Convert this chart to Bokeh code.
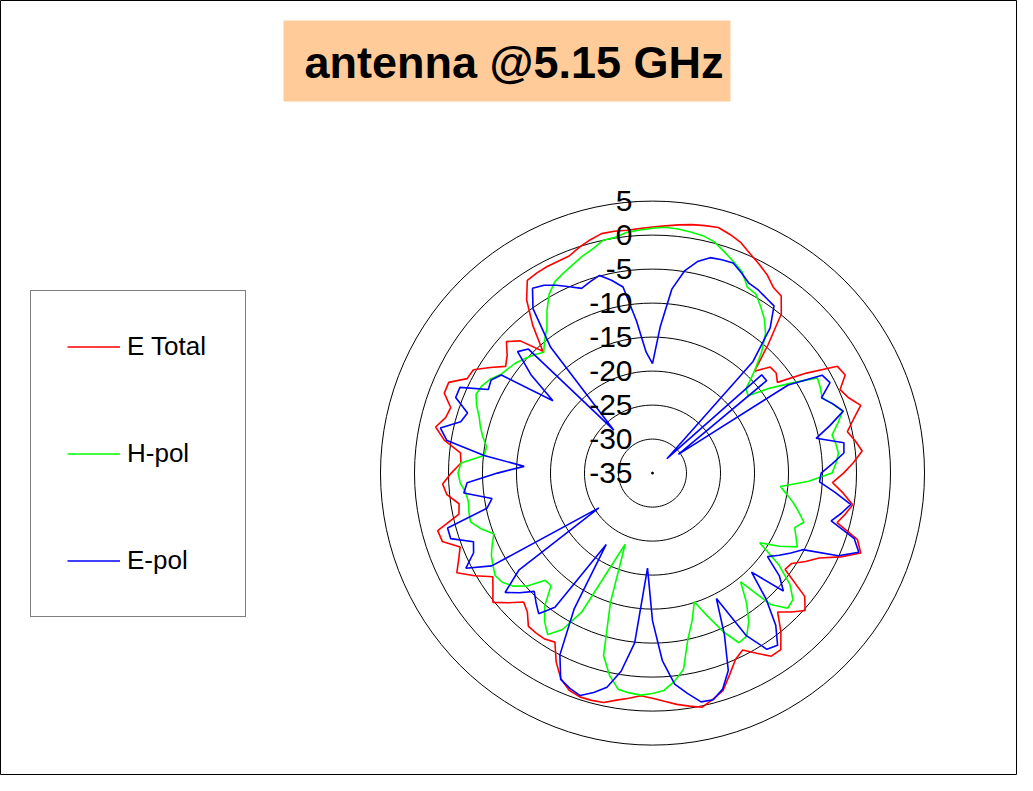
import numpy as np
from bokeh.plotting import figure
from bokeh.models import Range1d, Legend, LegendItem
from bokeh.core.properties import value
from bokeh.embed import file_html
from bokeh.resources import INLINE

# ---------------- data ----------------
angles_deg = list(range(0, 360, 3))  # 120 directions, clockwise from top

e_total = [
    1.2, 1.4, 1.7, 2.0, 2.2, 2.4, 1.9, 1.3, 0.3, -0.5,
    -1.3, -2.4, -2.8, -4.9, -9.6, -13.8, -11.7, -11.6, -12.3, -8.0,
    -3.6, -3.2, -4.8, -4.1, -2.8, -4.4, -5.7, -4.8, -4.0, -5.4,
    -6.9, -8.5, -6.8, -5.2, -6.0, -6.9, -3.3, -2.2, -4.7, -7.5,
    -9.0, -10.6, -10.9, -6.2, -4.8, -6.1, -7.5, -5.0, -2.9, -2.9,
    -4.4, -5.8, -5.0, -3.3, -1.4, -0.6, 0.2, -0.3, -0.8, -1.4,
    -1.9, -2.2, -1.7, -1.2, -0.5, -0.4, -0.4, -0.8, -1.9, -3.8,
    -6.3, -5.9, -5.9, -6.0, -7.5, -8.2, -6.5, -4.8, -6.0, -7.0,
    -4.8, -2.7, -3.8, -4.7, -2.5, -2.3, -5.9, -6.2, -4.6, -4.1,
    -5.4, -6.8, -6.6, -4.0, -2.4, -3.5, -3.8, -2.2, -2.2, -4.4,
    -4.6, -6.5, -8.3, -7.5, -6.1, -7.5, -10.9, -7.0, -3.5, -1.2,
    -1.0, -0.9, -0.9, -0.8, -0.1, 0.5, 1.0, 1.0, 0.9, 1.0,
]

h_pol = [
    1.0, 1.2, 1.1, 0.9, 0.7, 0.2, -0.8, -1.7, -2.6, -4.3,
    -4.6, -5.8, -7.0, -8.6, -11.0, -13.8, -16.5, -16.9, -13.8, -10.7,
    -7.0, -7.3, -7.7, -6.6, -5.6, -6.8, -8.0, -7.7, -7.5, -8.0,
    -8.6, -12.0, -16.1, -15.0, -13.8, -12.7, -11.6, -12.6, -11.9, -11.1,
    -13.5, -16.2, -12.0, -9.0, -7.2, -6.9, -9.0, -14.4, -11.5, -9.0,
    -7.3, -7.0, -9.5, -12.5, -15.1, -12.5, -10.0, -5.8, -4.2, -3.0,
    -2.6, -2.3, -2.5, -2.8, -4.6, -7.2, -15.0, -23.8, -20.0, -12.0,
    -8.4, -6.7, -8.0, -9.8, -12.7, -12.7, -10.2, -8.6, -7.7, -7.4,
    -7.9, -8.4, -9.2, -10.0, -8.5, -7.3, -7.4, -7.6, -7.4, -6.7,
    -6.4, -6.8, -10.1, -10.3, -9.5, -8.8, -8.2, -7.3, -6.6, -6.8,
    -7.4, -8.4, -8.8, -9.2, -9.8, -10.4, -11.1, -9.8, -8.6, -6.5,
    -4.6, -3.4, -2.8, -2.2, -1.5, -0.9, 0.0, 0.1, 0.6, 0.8,
]

e_pol = [
    -18.9, -13.5, -7.8, -4.9, -3.2, -2.2, -2.0, -1.9, -2.8, -3.7,
    -3.9, -4.3, -4.6, -7.5, -12.9, -32.0, -13.4, -13.4, -30.3, -11.2,
    -6.2, -5.7, -7.8, -6.6, -5.5, -8.0, -10.4, -6.5, -6.7, -8.5,
    -10.2, -10.4, -8.0, -5.5, -6.6, -7.8, -3.8, -2.5, -5.1, -10.2,
    -11.5, -12.8, -14.1, -11.0, -9.1, -14.4, -10.0, -6.2, -3.7, -4.1,
    -7.4, -14.3, -9.0, -3.9, -1.6, -0.5, -0.6, -2.2, -3.8, -7.4,
    -13.3, -21.0, -9.9, -5.5, -2.8, -1.6, -0.6, -1.1, -1.8, -5.0,
    -12.0, -22.5, -10.6, -8.4, -9.4, -10.4, -8.7, -7.1, -10.7, -25.6,
    -7.7, -4.2, -6.2, -6.8, -3.8, -3.8, -10.1, -11.1, -7.1, -7.7,
    -12.2, -16.1, -10.1, -4.4, -3.1, -5.8, -6.4, -4.0, -4.0, -7.9,
    -7.6, -8.5, -16.9, -12.0, -8.3, -9.2, -26.5, -11.2, -5.1, -2.6,
    -3.1, -4.0, -5.0, -5.9, -5.4, -4.9, -6.0, -7.3, -12.5, -17.2,
]

series_names = ["E Total", "H-pol", "E-pol"]
series_colors = ["#FF0000", "#00FF00", "#0000FF"]

radial_min = -35
ring_levels = [-30, -25, -20, -15, -10, -5, 0, 5]
tick_labels = [5, 0, -5, -10, -15, -20, -25, -30, -35]
title_text = "antenna @5.15 GHz"

# ---------------- layout ----------------
S = 6.8                     # pixels per dB
CXP, CYP = 652.0, 472.6     # position of the polar centre (pixels from top-left)
W, H = 1017, 775


def px_to_data(xp, yp):
    return (xp - CXP) / S, (CYP - yp) / S


x_start, y_end = px_to_data(0, 0)
x_end, y_start = px_to_data(W, H)

p = figure(width=W, height=H, x_range=Range1d(x_start, x_end),
           y_range=Range1d(y_start, y_end), x_axis_type=None, y_axis_type=None,
           toolbar_location=None, output_backend="svg", min_border=0)
p.outline_line_color = "black"
p.outline_line_width = 1
p.background_fill_color = "white"
p.border_fill_color = "white"

theta = np.radians(np.array(angles_deg + [angles_deg[0]], dtype=float))


def polar_xy(vals):
    v = np.array(list(vals) + [vals[0]], dtype=float)
    r = v - radial_min
    return r * np.sin(theta), r * np.cos(theta)


# grid rings (polygons with one vertex per direction)
ring_xs, ring_ys = [], []
for lv in ring_levels:
    xs, ys = polar_xy([lv] * len(angles_deg))
    ring_xs.append(list(xs))
    ring_ys.append(list(ys))
p.multi_line(ring_xs, ring_ys, line_color="black", line_width=1)
p.scatter([0], [0], size=2, color="black")

# series
renderers = []
for vals, col in zip([e_total, h_pol, e_pol], series_colors):
    xs, ys = polar_xy(vals)
    renderers.append(p.line(xs, ys, line_color=col, line_width=1.6))

# radial tick labels
p.text(x=[0] * len(tick_labels), y=[t - radial_min for t in tick_labels],
       text=[str(t) for t in tick_labels], text_align="right",
       text_baseline="middle", x_offset=-20, text_font=value("Liberation Sans"),
       text_font_size="30px", text_color="black")

# title box
bx0, by0 = px_to_data(283, 101)
bx1, by1 = px_to_data(730, 20)
p.quad(left=[bx0], right=[bx1], bottom=[by0], top=[by1],
       fill_color="#FFCC99", line_color=None)
tx, ty = px_to_data(304, 62)
p.text(x=[tx], y=[ty], text=[title_text], text_align="left",
       text_baseline="middle", text_font=value("Liberation Sans"),
       text_font_style="bold", text_font_size="45px", text_color="black")

# legend
legend = Legend(items=[LegendItem(label=n, renderers=[r])
                       for n, r in zip(series_names, renderers)],
                location=(30, H - 617), orientation="vertical",
                padding=36, spacing=68, margin=0,
                glyph_width=53, glyph_height=39, label_height=39,
                label_width=82, label_standoff=7,
                label_text_font="Liberation Sans", label_text_font_size="26px",
                label_text_color="black",
                border_line_color="black", border_line_width=1,
                background_fill_color="white", background_fill_alpha=1.0)
p.add_layout(legend, "center")

open("out.html", "w").write(file_html(p, INLINE))
